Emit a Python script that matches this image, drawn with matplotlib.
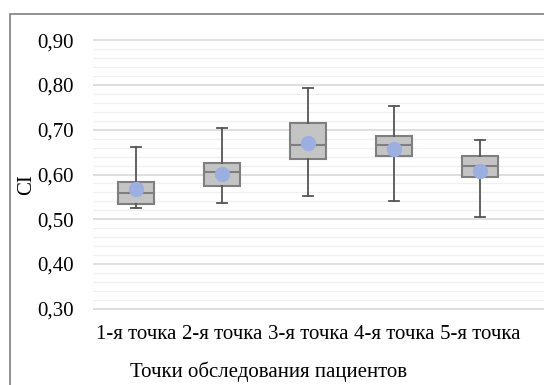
import matplotlib.pyplot as plt
from matplotlib.patches import Rectangle
from matplotlib.ticker import MultipleLocator, FuncFormatter

# данные
categories = ["1-я точка", "2-я точка", "3-я точка", "4-я точка", "5-я точка"]
whisker_low = [0.526, 0.537, 0.553, 0.541, 0.505]
q1 = [0.534, 0.575, 0.635, 0.642, 0.594]
medians = [0.558, 0.605, 0.667, 0.665, 0.618]
q3 = [0.583, 0.626, 0.716, 0.685, 0.641]
whisker_high = [0.662, 0.704, 0.794, 0.754, 0.677]
means = [0.567, 0.601, 0.671, 0.658, 0.608]

plt.rcParams['font.family'] = ['Liberation Serif', 'DejaVu Serif']

W, H = 544, 385
fig = plt.figure(figsize=(W / 100, H / 100), dpi=100)

# рамка области диаграммы (обрезана справа и снизу)
fig.patches.append(Rectangle((10 / W, -0.1), 1.2, 1 - 14 / H + 0.1,
                             transform=fig.transFigure, fill=False,
                             edgecolor="#7f7f7f", linewidth=1.2))

ax = fig.add_axes([93 / W, 1 - 311 / H, 1 - 93 / W, (311 - 38) / H])

stats = []
for i in range(len(categories)):
    stats.append({
        "whislo": whisker_low[i], "q1": q1[i], "med": medians[i],
        "q3": q3[i], "whishi": whisker_high[i], "mean": means[i],
        "label": categories[i],
    })

positions = list(range(1, len(categories) + 1))
ax.bxp(stats, positions=positions, widths=0.41, patch_artist=True,
       showmeans=True, showfliers=False,
       boxprops=dict(facecolor="#c4c4c4", edgecolor="#7f7f7f", linewidth=1.5),
       medianprops=dict(color="#7f7f7f", linewidth=1.5),
       whiskerprops=dict(color="#555555", linewidth=1.3),
       capprops=dict(color="#555555", linewidth=1.3),
       capwidths=0.12,
       meanprops=dict(marker="o", markersize=10, markerfacecolor="#9bb0e0",
                      markeredgecolor="#9bb0e0"))

ax.set_ylim(0.295, 0.905)
ax.set_xlim(0.5, 1 + (544 - 136) / 86)
ax.yaxis.set_major_locator(MultipleLocator(0.10))
ax.yaxis.set_minor_locator(MultipleLocator(0.02))
ax.yaxis.set_major_formatter(FuncFormatter(lambda v, p: f"{v:.2f}".replace(".", ",")))
ax.grid(which="major", axis="y", color="#d9d9d9", linewidth=1.2)
ax.grid(which="minor", axis="y", color="#f0f0f0", linewidth=1.0)
ax.set_axisbelow(True)

for s in ax.spines.values():
    s.set_visible(False)
ax.tick_params(axis="both", which="both", length=0)
ax.tick_params(axis="y", labelsize=15, pad=14)
ax.tick_params(axis="x", labelsize=15, pad=10)
ax.set_xticks(positions)
ax.set_xticklabels(categories)

fig.text(27 / W, 1 - 185 / H, "CI", rotation=90, ha="center", va="center", fontsize=15)
fig.text(269 / W, 1 - 372 / H, "Точки обследования пациентов",
         ha="center", va="center", fontsize=15)

fig.savefig("out.png", dpi=100)
